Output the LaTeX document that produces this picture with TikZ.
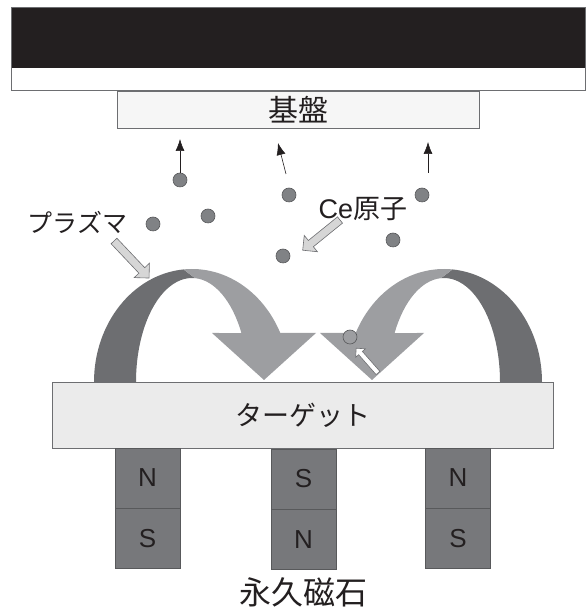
\documentclass[tikz,border=0pt]{standalone}
\usepackage{fontspec}
\setmainfont{Liberation Sans}
\newfontfamily\jpfont{Noto Sans CJK JP}
\usetikzlibrary{arrows.meta,positioning}

\definecolor{ink}{HTML}{231F20}
\definecolor{edge}{HTML}{6D6E71}
\definecolor{archdark}{HTML}{6D6E71}
\definecolor{archlight}{HTML}{9D9EA1}
\definecolor{magnetgray}{HTML}{77787B}
\definecolor{magnetedge}{HTML}{58595B}
\definecolor{atomgray}{HTML}{808285}
\definecolor{ptrgray}{HTML}{D6D6D6}
\definecolor{targetgray}{HTML}{EBEBEB}
\definecolor{substrategray}{HTML}{F6F6F6}

% one field-line arch with its arrow head, drawn round (0,0)
\newcommand{\fieldarch}{%
  \fill[archdark] (180:98pt and 113pt) arc[start angle=180,end angle=95,x radius=98pt,y radius=113pt]
    -- (87:56pt and 104pt) arc[start angle=87,end angle=180,x radius=56pt,y radius=104pt] -- cycle;
  \fill[archlight] (95:98pt and 113pt) arc[start angle=95,end angle=25.7,x radius=98pt,y radius=113pt]
    -- (124,49) -- (72,2) -- (20,49)
    -- (28.1:56pt and 104pt) arc[start angle=28.1,end angle=87,x radius=56pt,y radius=104pt] -- cycle;
}

% block pointer: #1 style, #2 tail, #3 angle, #4 length, #5 half shaft, #6 half head
\newcommand{\blockptr}[6]{%
  \begin{scope}[shift={#2},rotate=#3]
    \filldraw[#1] (0,-#5) -- (#4-#6,-#5) -- (#4-#6,-#6) -- (#4,0)
      -- (#4-#6,#6) -- (#4-#6,#5) -- (0,#5) -- cycle;
  \end{scope}}

\begin{document}
\begin{tikzpicture}[x=1pt,y=1pt,
  atom/.style={circle,fill=atomgray,draw=magnetedge,line width=0.6pt,minimum size=14pt,inner sep=0pt},
  flight/.style={draw=ink,line width=0.6pt,-{Latex[length=12pt,width=9pt]}},
  pointer/.style={draw=edge,fill=ptrgray,line width=0.6pt,line join=miter},
  magnet/.style={draw=magnetedge,fill=magnetgray,line width=0.6pt,minimum width=65pt,
    minimum height=60pt,inner sep=0pt,font=\fontsize{26}{26}\selectfont,text=ink},
  txt/.style={text=ink,inner sep=0pt}]

\useasboundingbox (0,0) rectangle (587,610);

% substrate holder and substrate
\fill[white] (11,520) rectangle (585,603);
\fill[ink] (11,542) rectangle (585,603);
\draw[edge,line width=0.8pt] (11,520) rectangle (585,603);
\node[draw=edge,fill=substrategray,line width=0.8pt,minimum width=362pt,minimum height=37pt,
  inner sep=0pt,text=ink,font=\jpfont\fontsize{30}{30}\selectfont] (sub) at (298,500.5) {基盤};

% field arches
\begin{scope}[shift={(192,228)}]
  \fieldarch
\end{scope}
\begin{scope}[shift={(444,228)},xscale=-1]
  \fieldarch
\end{scope}

% target
\node[draw=edge,fill=targetgray,line width=0.8pt,minimum width=501pt,minimum height=66pt,
  inner sep=0pt,text=ink,font=\jpfont\fontsize{27}{27}\selectfont] (target) at (302.5,195) {ターゲット};

% magnets
\node[magnet] (m1n) at (147.5,132) {N};
\node[magnet,below=0pt of m1n] (m1s) {S};
\node[magnet] (m2s) at (303.5,131) {S};
\node[magnet,below=0pt of m2s] (m2n) {N};
\node[magnet] (m3n) at (458,132) {N};
\node[magnet,below=0pt of m3n] (m3s) {S};
\node[txt,font=\jpfont\fontsize{32}{32}\selectfont] (mag) at (303,18) {永久磁石};

% sputtered atoms
\node[atom] (b1) at (180,430) {};
\node[atom] (b2) at (289,415) {};
\node[atom] (b3) at (422,415) {};
\node[atom] (b4) at (153,386) {};
\node[atom] (b5) at (208,394) {};
\node[atom] (b6) at (283,354) {};
\node[atom] (b7) at (393,370) {};
\node[atom,fill=archlight] (b8) at (350,273) {};

\coordinate (e1) at (180,471);
\coordinate (s2) at (286,436);
\coordinate (e2) at (278,467);
\coordinate (s3) at (428,437);
\coordinate (e3) at (428,468);
\draw[flight] (b1) -- (e1);
\draw[flight] (s2) -- (e2);
\draw[flight] (s3) -- (e3);

% labels and pointers
\node[txt,font=\jpfont\fontsize{25}{25}\selectfont] (plasma) at (77.5,388) {プラズマ};
\node[txt,font=\fontsize{27}{27}\selectfont] (atomlbl) at (363,401) {Ce{\jpfont 原子}};
\blockptr{pointer}{(114,369)}{-46.6}{51}{4}{10.5}
\blockptr{pointer}{(340,390)}{219}{48}{4}{10.5}
\blockptr{pointer,fill=white}{(378,237)}{131.3}{33}{2.5}{6.5}
\end{tikzpicture}
\end{document}
